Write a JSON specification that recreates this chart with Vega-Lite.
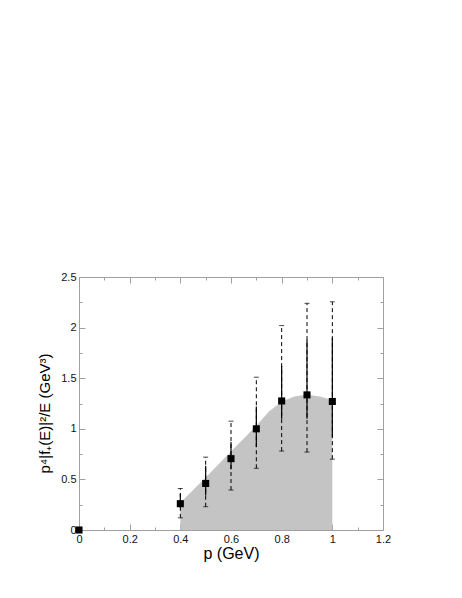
{
  "$schema": "https://vega.github.io/schema/vega-lite/v6.json",
  "width": 304,
  "height": 253,
  "autosize": {"type": "none"},
  "padding": {"left": 79, "top": 277, "right": 79, "bottom": 68},
  "background": "white",
  "config": {
    "view": {"stroke": "#a0a0a0", "strokeWidth": 1},
    "font": "Liberation Sans",
    "axis": {
      "labelFont": "Liberation Sans",
      "titleFont": "Liberation Sans",
      "labelFontSize": 11,
      "labelColor": "#111111",
      "titleFontSize": 16,
      "titleFontWeight": "normal",
      "titleColor": "black",
      "domain": false,
      "grid": false,
      "tickColor": "#a0a0a0",
      "labelFlush": false,
      "labelOverlap": false
    }
  },
  "datasets": {
    "band": [
      {"p": 0.4, "top": 0.0},
      {"p": 0.4, "top": 0.27},
      {"p": 0.5, "top": 0.52},
      {"p": 0.6, "top": 0.775},
      {"p": 0.7, "top": 1.03},
      {"p": 0.75, "top": 1.17},
      {"p": 0.8, "top": 1.27},
      {"p": 0.85, "top": 1.32},
      {"p": 0.9, "top": 1.34},
      {"p": 0.95, "top": 1.32},
      {"p": 1.0, "top": 1.285}
    ],
    "points": [
      {"p": 0.0, "y": 0.0},
      {"p": 0.4, "y": 0.26, "lo": 0.12, "hi": 0.41, "slo": 0.22, "shi": 0.355},
      {"p": 0.5, "y": 0.46, "lo": 0.23, "hi": 0.72, "slo": 0.34, "shi": 0.635},
      {"p": 0.6, "y": 0.705, "lo": 0.395, "hi": 1.075, "slo": 0.6, "shi": 0.87},
      {"p": 0.7, "y": 1.0, "lo": 0.61, "hi": 1.51, "slo": 0.82, "shi": 1.22},
      {"p": 0.8, "y": 1.275, "lo": 0.78, "hi": 2.02, "slo": 1.1, "shi": 1.62},
      {"p": 0.9, "y": 1.335, "lo": 0.77, "hi": 2.24, "slo": 1.1, "shi": 1.88},
      {"p": 1.0, "y": 1.27, "lo": 0.7, "hi": 2.255, "slo": 0.92, "shi": 1.9}
    ]
  },
  "layer": [
    {
      "data": {"name": "band"},
      "mark": {"type": "area", "color": "#c4c4c4", "interpolate": "linear"},
      "encoding": {
        "x": {
          "field": "p", "type": "quantitative",
          "scale": {"domain": [0, 1.2], "nice": false},
          "axis": {
            "orient": "bottom",
            "values": [0, 0.1, 0.2, 0.3, 0.4, 0.5, 0.6, 0.7, 0.8, 0.9, 1.0, 1.1, 1.2],
            "format": "~g",
            "labelExpr": "abs(datum.value * 5 - round(datum.value * 5)) < 0.01 ? datum.label : ''",
            "tickSize": {"condition": {"test": "abs(datum.value * 5 - round(datum.value * 5)) < 0.01", "value": -6}, "value": -3},
            "labelPadding": 9,
            "title": "p (GeV)",
            "titleY": 23,
            "titleBaseline": "middle"
          }
        },
        "y": {
          "field": "top", "type": "quantitative",
          "scale": {"domain": [0, 2.5], "nice": false},
          "axis": {
            "orient": "left",
            "values": [0, 0.25, 0.5, 0.75, 1, 1.25, 1.5, 1.75, 2, 2.25, 2.5],
            "format": "~g",
            "labelExpr": "abs(datum.value * 2 - round(datum.value * 2)) < 0.01 ? datum.label : ''",
            "tickSize": {"condition": {"test": "abs(datum.value * 2 - round(datum.value * 2)) < 0.01", "value": -6}, "value": -3},
            "labelPadding": 9,
            "title": "p⁴|f₊(E)|²/E (GeV³)",
            "titleFontSize": 15,
            "titleX": -27,
            "titleY": 136
          }
        }
      }
    },
    {
      "mark": {"type": "rule", "color": "#d0d0d0", "strokeWidth": 2},
      "encoding": {"y": {"datum": 0, "type": "quantitative", "axis": null}}
    },
    {
      "data": {"name": "points"},
      "mark": {"type": "rule", "color": "black", "strokeWidth": 1, "strokeDash": [4, 3]},
      "encoding": {
        "x": {"field": "p", "type": "quantitative", "axis": null},
        "y": {"field": "lo", "type": "quantitative", "axis": null},
        "y2": {"field": "hi"}
      }
    },
    {
      "data": {"name": "points"},
      "mark": {"type": "tick", "orient": "horizontal", "color": "black", "size": 5, "thickness": 1},
      "encoding": {
        "x": {"field": "p", "type": "quantitative", "axis": null},
        "y": {"field": "hi", "type": "quantitative", "axis": null}
      }
    },
    {
      "data": {"name": "points"},
      "mark": {"type": "tick", "orient": "horizontal", "color": "black", "size": 5, "thickness": 1},
      "encoding": {
        "x": {"field": "p", "type": "quantitative", "axis": null},
        "y": {"field": "lo", "type": "quantitative", "axis": null}
      }
    },
    {
      "data": {"name": "points"},
      "mark": {"type": "rule", "color": "black", "strokeWidth": 1.2},
      "encoding": {
        "x": {"field": "p", "type": "quantitative", "axis": null},
        "y": {"field": "slo", "type": "quantitative", "axis": null},
        "y2": {"field": "shi"}
      }
    },
    {
      "data": {"name": "points"},
      "mark": {"type": "point", "shape": "square", "filled": true, "color": "black", "size": 50, "opacity": 1},
      "encoding": {
        "x": {
          "field": "p", "type": "quantitative",
          "axis": {
            "orient": "top",
            "values": [0, 0.1, 0.2, 0.3, 0.4, 0.5, 0.6, 0.7, 0.8, 0.9, 1.0, 1.1, 1.2],
            "labels": false,
            "title": null,
            "tickSize": {"condition": {"test": "abs(datum.value * 5 - round(datum.value * 5)) < 0.01", "value": -6}, "value": -3}
          }
        },
        "y": {
          "field": "y", "type": "quantitative",
          "axis": {
            "orient": "right",
            "values": [0, 0.25, 0.5, 0.75, 1, 1.25, 1.5, 1.75, 2, 2.25, 2.5],
            "labels": false,
            "title": null,
            "tickSize": {"condition": {"test": "abs(datum.value * 2 - round(datum.value * 2)) < 0.01", "value": -6}, "value": -3}
          }
        }
      }
    }
  ]
}
